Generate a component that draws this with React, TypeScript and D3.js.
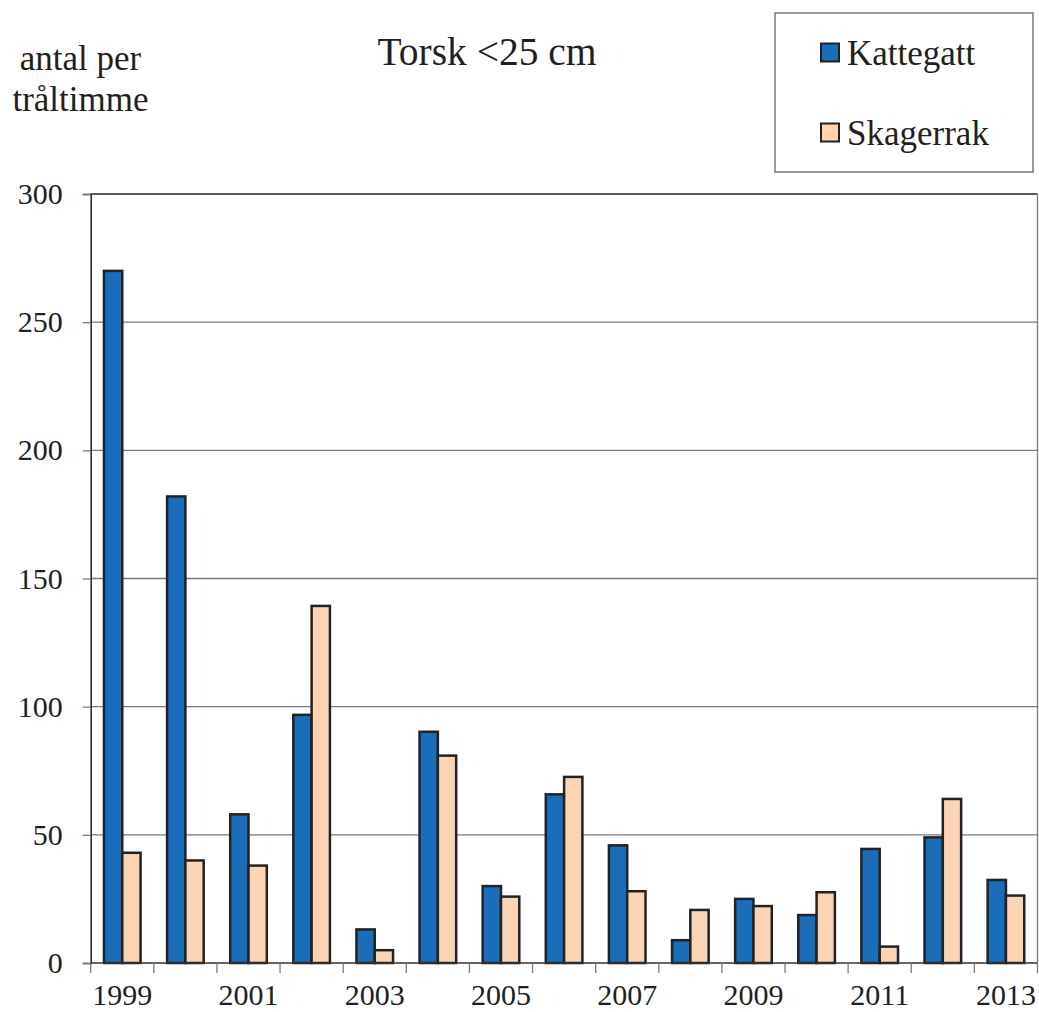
import { useEffect, useRef } from "react";
import * as d3 from "d3";

const years = ["1999", "2000", "2001", "2002", "2003", "2004", "2005", "2006", "2007", "2008", "2009", "2010", "2011", "2012", "2013"];
const kattegatt = [270, 182, 58, 96.8, 13.1, 90.2, 30, 65.8, 45.9, 8.9, 25, 18.7, 44.5, 49, 32.4];
const skagerrak = [43, 40, 38, 139.3, 5, 80.9, 25.9, 72.6, 28, 20.7, 22.2, 27.6, 6.4, 64, 26.3];
const yTicks = [0, 50, 100, 150, 200, 250, 300];
const seriesNames = ["Kattegatt", "Skagerrak"];
const seriesColors = ["#1a6db8", "#fdd4b3"];

export default function App() {
  const svgRef = useRef<SVGSVGElement>(null);
  const width = 1039;
  const height = 1012;

  useEffect(() => {
    const left = 90.7, right = 1037.5, top = 194, bottom = 963;
    const font = "'Liberation Serif', 'Times New Roman', serif";
    const ink = "#231f20";

    const svg = d3.select(svgRef.current);
    svg.selectAll("*").remove();

    const x = d3.scaleBand<string>().domain(years).range([left, right]).paddingInner(0).paddingOuter(0);
    const groupW = x.bandwidth() * 0.58;
    const inner = d3.scaleBand<string>().domain(seriesNames).range([0, groupW]);
    const offset = (x.bandwidth() - groupW) / 2;
    const y = d3.scaleLinear().domain([0, 300]).range([bottom, top]);

    // gridlines
    svg.append("g")
      .selectAll("line")
      .data(yTicks.filter(t => t > 0 && t < 300))
      .join("line")
      .attr("x1", left).attr("x2", right)
      .attr("y1", d => y(d)).attr("y2", d => y(d))
      .attr("stroke", "#7a7a7a").attr("stroke-width", 1.3);

    // plot border top & right
    svg.append("line").attr("x1", left).attr("x2", right).attr("y1", top).attr("y2", top)
      .attr("stroke", "#222").attr("stroke-width", 1.5);
    svg.append("line").attr("x1", right).attr("x2", right).attr("y1", top).attr("y2", bottom)
      .attr("stroke", "#7a7a7a").attr("stroke-width", 1.3);

    // bars
    const data = years.map((yr, i) => ({ yr, vals: [kattegatt[i], skagerrak[i]] }));
    const groups = svg.append("g")
      .selectAll("g")
      .data(data)
      .join("g")
      .attr("transform", d => `translate(${(x(d.yr) ?? 0) + offset},0)`);
    groups.selectAll("rect")
      .data(d => d.vals.map((v, j) => ({ name: seriesNames[j], v, j })))
      .join("rect")
      .attr("x", d => inner(d.name) ?? 0)
      .attr("width", inner.bandwidth())
      .attr("y", d => y(d.v))
      .attr("height", d => bottom - y(d.v))
      .attr("fill", d => seriesColors[d.j])
      .attr("stroke", "#222")
      .attr("stroke-width", 2.5);

    // y axis
    const yAxis = svg.append("g").attr("transform", `translate(${left},0)`)
      .call(d3.axisLeft(y).tickValues(yTicks).tickSize(8).tickPadding(20));
    yAxis.select(".domain").attr("stroke", "#222").attr("stroke-width", 1.5);
    yAxis.selectAll(".tick line").attr("stroke", "#7a7a7a").attr("stroke-width", 1.3);
    yAxis.selectAll("text").attr("font-family", font).attr("font-size", 30).attr("fill", ink)
      .attr("x", -28);

    // x axis
    const xAxis = svg.append("g").attr("transform", `translate(0,${bottom})`);
    xAxis.append("line").attr("x1", left).attr("x2", right).attr("y1", 0).attr("y2", 0)
      .attr("stroke", "#333").attr("stroke-width", 1.5);
    xAxis.selectAll("line.tk")
      .data(years.map(yr => x(yr) ?? 0).concat([right]))
      .join("line")
      .attr("class", "tk")
      .attr("x1", d => d).attr("x2", d => d)
      .attr("y1", 0).attr("y2", 10)
      .attr("stroke", "#7a7a7a").attr("stroke-width", 1.3);
    xAxis.selectAll("text")
      .data(years.filter((_, i) => i % 2 === 0))
      .join("text")
      .attr("x", d => (x(d) ?? 0) + x.bandwidth() / 2)
      .attr("y", 42)
      .attr("text-anchor", "middle")
      .attr("font-family", font).attr("font-size", 30).attr("fill", ink)
      .text(d => d);

    // title
    svg.append("text").attr("x", 487).attr("y", 65).attr("text-anchor", "middle")
      .attr("font-family", font).attr("font-size", 39.5).attr("fill", ink)
      .text("Torsk <25 cm");

    // y label
    const yl = svg.append("text").attr("text-anchor", "middle")
      .attr("font-family", font).attr("font-size", 35).attr("fill", ink);
    yl.append("tspan").attr("x", 80.5).attr("y", 70).text("antal per");
    yl.append("tspan").attr("x", 80.5).attr("y", 111).text("tråltimme");

    // legend
    const lg = svg.append("g");
    lg.append("rect").attr("x", 775).attr("y", 13).attr("width", 258).attr("height", 159)
      .attr("fill", "#fff").attr("stroke", "#555").attr("stroke-width", 1.2);
    seriesNames.forEach((name, i) => {
      const cy = 52.5 + i * 80;
      lg.append("rect").attr("x", 821).attr("y", cy - 9).attr("width", 18).attr("height", 18)
        .attr("fill", seriesColors[i]).attr("stroke", "#222").attr("stroke-width", 2);
      lg.append("text").attr("x", 847).attr("y", cy + 12)
        .attr("font-family", font).attr("font-size", 35).attr("fill", ink)
        .text(name);
    });
  }, []);

  return (
    <div style={{ position: "absolute", left: 0, top: 0 }}>
      <svg ref={svgRef} width={width} height={height} style={{ display: "block", background: "#fff" }}></svg>
    </div>
  );
}
